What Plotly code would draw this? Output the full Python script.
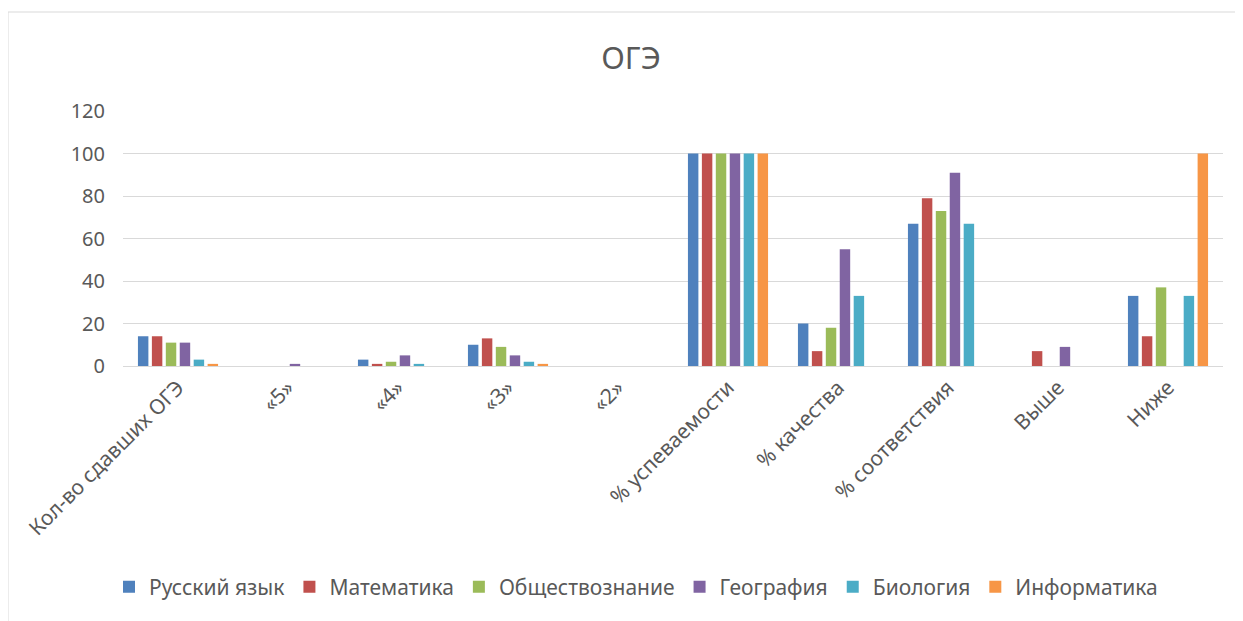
import plotly.graph_objects as go

categories = ["Кол-во сдавших ОГЭ", "«5»", "«4»", "«3»", "«2»", "% успеваемости",
              "% качества", "% соответствия", "Выше", "Ниже"]
series_names = ["Русский язык", "Математика", "Обществознание", "География", "Биология", "Информатика"]
russian = [14, 0, 3, 10, 0, 100, 20, 67, 0, 33]
math = [14, 0, 1, 13, 0, 100, 7, 79, 7, 14]
social = [11, 0, 2, 9, 0, 100, 18, 73, 0, 37]
geography = [11, 1, 5, 5, 0, 100, 55, 91, 9, 0]
biology = [3, 0, 1, 2, 0, 100, 33, 67, 0, 33]
informatics = [1, 0, 0, 1, 0, 100, 0, 0, 0, 100]
colors = ["#4F81BD", "#C0504D", "#9BBB59", "#8064A2", "#4BACC6", "#F79646"]
y_ticks = [0, 20, 40, 60, 80, 100, 120]

values = [russian, math, social, geography, biology, informatics]

fig = go.Figure()
for name, vals, col in zip(series_names, values, colors):
    fig.add_trace(go.Bar(name=name, x=categories, y=vals, marker_color=col,
                         marker_line_width=0))

# page body has an 8px margin; figure coords = page coords - 8
OFF = 8
W, H = 1243, 621
ml = 123 - OFF
mt = 111 - OFF
mr = W - (1223 - OFF)
mb = H - (366 - OFF)
pw, ph = W - ml - mr, H - mt - mb
FONT = "Noto Sans, Open Sans, sans-serif"
TXT = "#595959"

fig.update_layout(
    width=W, height=H,
    margin=dict(l=ml, r=mr, t=mt, b=mb, autoexpand=False),
    paper_bgcolor="white", plot_bgcolor="white",
    font=dict(family=FONT, color=TXT, size=20),
    title=dict(text="ОГЭ", x=(631 - 123) / 1100 * pw / W + ml / W, xanchor="center",
               y=1 - (58 - OFF) / H, yanchor="middle",
               font=dict(size=31, color=TXT)),
    barmode="group", bargap=0.24, bargroupgap=0.25,
    legend=dict(orientation="h", x=(636 - 123) / 1100, xanchor="center",
                y=-(587 - 366) / ph, yanchor="middle", font=dict(size=21, color=TXT),
                itemwidth=30, traceorder="normal"),
    xaxis=dict(tickangle=-45, showgrid=False, showline=True, linecolor="#D9D9D9",
               linewidth=1, ticks="", automargin=False,
               tickfont=dict(size=21, color=TXT)),
    yaxis=dict(range=[0, 120], tickvals=y_ticks, showgrid=True, gridcolor="#D9D9D9",
               gridwidth=1, zeroline=False, showline=False, ticks="", automargin=False,
               tickfont=dict(size=20, color=TXT), ticklabelstandoff=17),
)

# outer chart border (page x=8, y=12)
x0 = (8 - 123) / pw
x1 = (1260 - 123) / pw
y1 = (366 - 12) / ph
y0 = (366 - 640) / ph
fig.add_shape(type="rect", xref="paper", yref="paper", x0=x0, x1=x1, y0=y0, y1=y1,
              line=dict(color="#D9D9D9", width=1), fillcolor="rgba(0,0,0,0)", layer="below")

fig.write_html("out.html")
